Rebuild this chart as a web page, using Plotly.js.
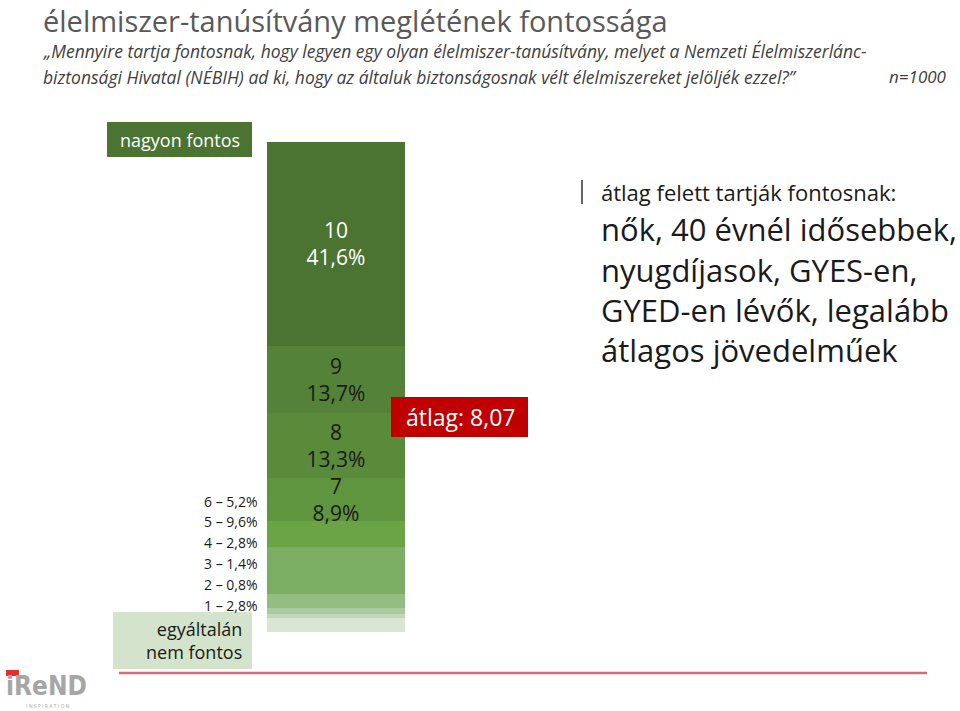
<!DOCTYPE html>
<html>
<head>
<meta charset="utf-8">
<script src="https://cdn.plot.ly/plotly-3.0.1.min.js"></script>
<style>html,body{margin:0;padding:0;background:#fff;}#chart{width:960px;height:711px;}</style>
</head>
<body>
<div id="chart"></div>
<script>
// ---- data ----
const categories = ['1', '2', '3', '4', '5', '6', '7', '8', '9', '10'];
const shares = [2.8, 0.8, 1.4, 2.8, 9.6, 5.2, 8.9, 13.3, 13.7, 41.6];
const labelledInside = ['7', '8', '9', '10'];
const sideLabelled = ['6', '5', '4', '3', '2', '1'];
const meanValue = 8.07;
const topLabel = 'nagyon fontos';
const bottomLabel = 'egyáltalán<br>nem fontos';
const chartTitle = 'élelmiszer-tanúsítvány meglétének fontossága';
const subtitleLine1 = '„Mennyire tartja fontosnak, hogy legyen egy olyan élelmiszer-tanúsítvány, melyet a Nemzeti Élelmiszerlánc-';
const subtitleLine2 = 'biztonsági Hivatal (NÉBIH) ad ki, hogy az általuk biztonságosnak vélt élelmiszereket jelöljék ezzel?”';
const sampleSize = 'n=1000';
const noteHead = 'átlag felett tartják fontosnak:';
const noteLines = ['nők, 40 évnél idősebbek,', 'nyugdíjasok, GYES-en,', 'GYED-en lévők, legalább', 'átlagos jövedelműek'];

// ---- styles ----
const segColors = ['#d9e6d3', '#c2d8b8', '#abcb9e', '#93bd81', '#7bae62', '#6aa444', '#60953f', '#5a8b3b', '#548238', '#4b7331'];
const FONT = 'Open Sans, Noto Sans, sans-serif';
const W = 960, H = 711;
const X = px => px / W;
const Y = py => 1 - py / H;
const fmt = v => v.toFixed(1).replace('.', ',');

// bar geometry in data coords (x axis = pixels, y axis = percent)
const barCenter = 336, barWidth = 138;
const pxPerUnit = 490 / 100.1;
const yMin = -(H - 632) / pxPerUnit;
const yMax = 100.1 + 142 / pxPerUnit;

const traces = categories.map((c, i) => ({
  type: 'bar',
  x: [barCenter],
  y: [shares[i]],
  width: [barWidth],
  name: c,
  marker: {color: segColors[i], line: {width: 0}},
  text: labelledInside.includes(c) ? [c + '<br>' + fmt(shares[i]) + '%'] : [''],
  textposition: 'inside',
  insidetextanchor: 'middle',
  constraintext: 'none',
  textangle: 0,
  textfont: {family: FONT, size: 21, color: c === '10' ? '#ffffff' : '#1a1a1a'},
  hoverinfo: 'skip',
  showlegend: false
}));

const annotations = [];
// side labels 6..1
sideLabelled.forEach((c, k) => {
  const i = categories.indexOf(c);
  annotations.push({
    xref: 'paper', yref: 'paper', x: X(259), y: Y(501 + k * 20.8),
    xanchor: 'right', yanchor: 'middle', showarrow: false,
    text: c + ' – ' + fmt(shares[i]) + '%',
    font: {family: FONT, size: 14, color: '#1a1a1a'}
  });
});
// top / bottom labels
annotations.push({xref: 'paper', yref: 'paper', x: X(179.5), y: Y(140), xanchor: 'center', yanchor: 'middle',
  showarrow: false, text: topLabel, font: {family: FONT, size: 18, color: '#ffffff'}});
annotations.push({xref: 'paper', yref: 'paper', x: X(244), y: Y(640), xanchor: 'right', yanchor: 'middle', align: 'right',
  showarrow: false, text: bottomLabel, font: {family: FONT, size: 18, color: '#1a1a1a'}});
// mean box text
annotations.push({xref: 'paper', yref: 'paper', x: X(460), y: Y(417), xanchor: 'center', yanchor: 'middle',
  showarrow: false, text: 'átlag: ' + meanValue.toFixed(2).replace('.', ','), font: {family: FONT, size: 23, color: '#ffffff'}});
// title + subtitles
annotations.push({xref: 'paper', yref: 'paper', x: X(42), y: Y(20), xanchor: 'left', yanchor: 'middle', borderpad: 0,
  showarrow: false, text: chartTitle, font: {family: FONT, size: 29, color: '#595959'}});
annotations.push({xref: 'paper', yref: 'paper', x: X(42), y: Y(51), xanchor: 'left', yanchor: 'middle', borderpad: 0,
  showarrow: false, text: '<i>' + subtitleLine1 + '</i>', font: {family: FONT, size: 17.5, color: '#404040'}});
annotations.push({xref: 'paper', yref: 'paper', x: X(42), y: Y(76.5), xanchor: 'left', yanchor: 'middle', borderpad: 0,
  showarrow: false, text: '<i>' + subtitleLine2 + '</i>', font: {family: FONT, size: 17.5, color: '#404040'}});
annotations.push({xref: 'paper', yref: 'paper', x: X(948), y: Y(76.5), xanchor: 'right', yanchor: 'middle', borderpad: 0,
  showarrow: false, text: '<i>' + sampleSize + '</i>', font: {family: FONT, size: 17, color: '#404040'}});
// right note
annotations.push({xref: 'paper', yref: 'paper', x: X(599), y: Y(192), xanchor: 'left', yanchor: 'middle',
  showarrow: false, text: noteHead, font: {family: FONT, size: 22, color: '#1a1a1a'}});
noteLines.forEach((t, k) => annotations.push({xref: 'paper', yref: 'paper', x: X(599), y: Y(229 + k * 40.5),
  xanchor: 'left', yanchor: 'middle', showarrow: false, text: t, font: {family: FONT, size: 31, color: '#1a1a1a'}}));
// logo
annotations.push({xref: 'paper', yref: 'paper', x: X(4), y: Y(686), xanchor: 'left', yanchor: 'middle',
  showarrow: false, text: '<b>iReND</b>', font: {family: 'DejaVu Sans Condensed, DejaVu Sans', size: 26, color: '#a6a6a6'}});
annotations.push({xref: 'paper', yref: 'paper', x: X(48), y: Y(706), xanchor: 'center', yanchor: 'middle',
  showarrow: false, text: 'I N S P I R A T I O N', font: {family: FONT, size: 5, color: '#a6a6a6'}});

const shapes = [
  {type: 'rect', xref: 'paper', yref: 'paper', x0: X(107), x1: X(252), y0: Y(157), y1: Y(122), fillcolor: '#4b7331', line: {width: 0}, layer: 'below'},
  {type: 'rect', xref: 'paper', yref: 'paper', x0: X(113), x1: X(252), y0: Y(669), y1: Y(612), fillcolor: '#d4e3cb', line: {width: 0}, layer: 'above'},
  {type: 'rect', xref: 'paper', yref: 'paper', x0: X(391), x1: X(528), y0: Y(437), y1: Y(397), fillcolor: '#c00000', line: {width: 0}, layer: 'above'},
  {type: 'line', xref: 'paper', yref: 'paper', x0: X(119), x1: X(927), y0: Y(673), y1: Y(673), line: {color: '#c9707b', width: 2.5}},
  {type: 'line', xref: 'paper', yref: 'paper', x0: X(582), x1: X(582), y0: Y(180), y1: Y(204), line: {color: '#333333', width: 1.5}},
  {type: 'rect', xref: 'paper', yref: 'paper', x0: X(6), x1: X(19), y0: Y(676), y1: Y(670), fillcolor: '#e03030', line: {width: 0}, layer: 'above'}
];

const layout = {
  width: W, height: H,
  margin: {l: 0, r: 0, t: 0, b: 0, pad: 0},
  paper_bgcolor: '#ffffff', plot_bgcolor: '#ffffff',
  barmode: 'stack',
  showlegend: false,
  xaxis: {range: [0, W], visible: false, fixedrange: true},
  yaxis: {range: [yMin, yMax], visible: false, fixedrange: true},
  annotations: annotations,
  shapes: shapes
};

Plotly.newPlot('chart', traces, layout, {staticPlot: true, displayModeBar: false});
</script>
</body>
</html>
